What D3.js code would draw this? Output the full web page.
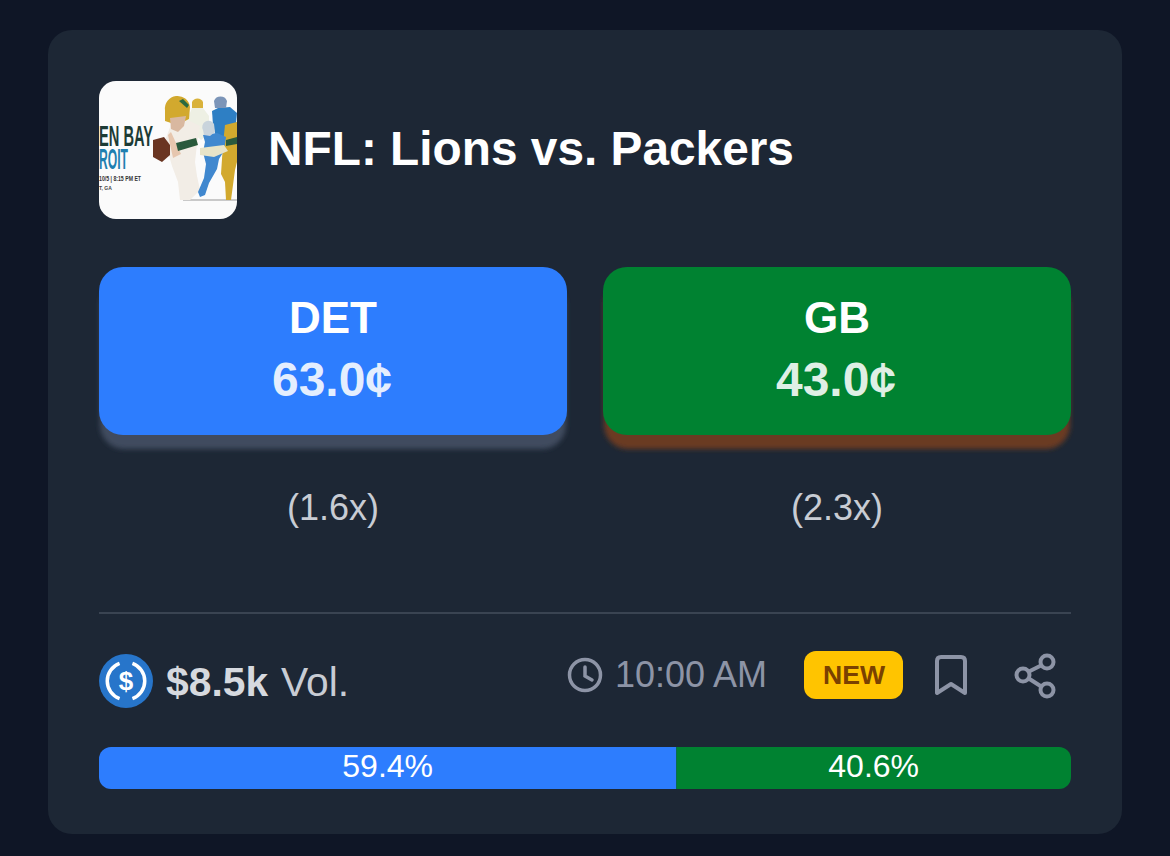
<!DOCTYPE html>
<html>
<head>
<meta charset="utf-8">
<script src="https://cdn.jsdelivr.net/npm/d3@7"></script>
<style>
  html, body { margin: 0; padding: 0; background: #0f1626; overflow: hidden; }
  svg { display: block; }
  text { font-family: "Liberation Sans", Arial, sans-serif; }
</style>
</head>
<body>
<svg id="chart" width="1170" height="856"></svg>
<script>
const title = "NFL: Lions vs. Packers"
const teams = ["DET", "GB"]
const prices = [63.0, 43.0]
const multipliers = [1.6, 2.3]
const shares = [59.4, 40.6]
const volume = "$8.5k"
const time = "10:00 AM"

const teamColors = ["#2d7dfe", "#008231"]
const shadowColors = ["#414c5e", "#6b3a22"]

const svg = d3.select("#chart")
const defs = svg.append("defs")

defs.append("filter").attr("id", "shadowBlur")
  .attr("x", "-5%").attr("y", "-20%").attr("width", "110%").attr("height", "140%")
  .append("feGaussianBlur").attr("stdDeviation", 2.5)
defs.append("filter").attr("id", "thumbBlur")
  .append("feGaussianBlur").attr("stdDeviation", 0.6)
defs.append("clipPath").attr("id", "thumbClip")
  .append("rect").attr("x", 99).attr("y", 81).attr("width", 138).attr("height", 138).attr("rx", 17)
defs.append("clipPath").attr("id", "barClip")
  .append("rect").attr("x", 99).attr("y", 747).attr("width", 972).attr("height", 42).attr("rx", 12)

svg.append("rect").attr("width", 1170).attr("height", 856).attr("fill", "#0f1626")
svg.append("rect").attr("x", 48).attr("y", 30).attr("width", 1074).attr("height", 804)
  .attr("rx", 24).attr("fill", "#1d2735")

// thumbnail, rough drawing of the poster
const thumb = svg.append("g").attr("clip-path", "url(#thumbClip)")
thumb.append("rect").attr("x", 99).attr("y", 81).attr("width", 138).attr("height", 138).attr("fill", "#fbfbfb")
thumb.append("text").attr("x", 99).attr("y", 146).attr("font-size", 30).attr("font-weight", 700)
  .attr("fill", "#1d3b35").attr("textLength", 54).attr("lengthAdjust", "spacingAndGlyphs").text("EN BAY")
thumb.append("text").attr("x", 99).attr("y", 169).attr("font-size", 30).attr("font-weight", 700)
  .attr("fill", "#1f7fb0").attr("textLength", 29).attr("lengthAdjust", "spacingAndGlyphs").text("ROIT")
thumb.append("text").attr("x", 99).attr("y", 181).attr("font-size", 7).attr("font-weight", 700)
  .attr("fill", "#333").attr("textLength", 42).attr("lengthAdjust", "spacingAndGlyphs").text("10/5 | 8:15 PM ET")
thumb.append("text").attr("x", 99).attr("y", 190).attr("font-size", 5).attr("font-weight", 700)
  .attr("fill", "#444").text("T, GA")

const art = thumb.append("g").attr("filter", "url(#thumbBlur)")
const shapes = [
  // floor shadow
  ["M183 199 H237 V201 H183 Z", "#c9c9c9"],
  // back players
  ["M192 108 l11 0 l6 8 l0 18 l-8 6 l-9 -8 l-4 -14 z", "#eef0e4"],
  ["M192 102 a6 6 0 0 1 11 0 l0 6 l-11 0 z", "#d9b23a"],
  ["M212 111 l6 -3 l12 -1 l7 6 l-2 20 l-6 4 l-13 0 l-3 -12 z", "#2f7fc4"],
  ["M214 101 a7 7 0 0 1 13 0 l-1 7 l-11 0 z", "#7c95b8"],
  ["M225 125 l12 -3 v40 l-2 8 l-4 30 l-5 0 l-1 -18 l-4 -8 l2 -30 z", "#d2a92d"],
  ["M226 140 l11 -3 v7 l-11 2 z", "#2c5a3c"],
  // quarterback
  ["M172 122 l16 -2 l12 6 l-3 18 l-2 18 l2 14 l3 14 l-10 10 l-10 0 l-2 -18 l-6 -16 l-4 -14 l-2 -14 z", "#f2ede6"],
  ["M165 110 a12 12 0 0 1 25 -3 l-1 12 l-12 6 l-12 -4 z", "#d2a92d"],
  ["M170 118 l16 -2 l-2 10 l-6 6 l-7 -3 z", "#d9b8a0"],
  ["M179 101 l4 -2 l6 6 l-2 3 z", "#2c6a40"],
  ["M168 135 l3 -3 l10 22 l-8 4 z", "#e6c6ae"],
  ["M153 140 l11 -3 l6 8 l0 10 l-8 7 l-9 -5 z", "#6a3524"],
  ["M176 143 l20 -5 l2 7 l-20 6 z", "#2c5a3c"],
  // running player
  ["M203 135 l14 -2 l9 4 l-2 14 l-5 8 l-2 10 l-8 14 l-4 12 l-5 2 l-2 -5 l6 -14 l2 -14 l-3 -12 l2 -10 z", "#3f88cf"],
  ["M203 130 a6 6 0 0 1 11 -6 l1 8 l-5 4 l-6 -1 z", "#c9d4dc"],
  ["M200 148 l24 -3 l4 6 l-14 6 l-14 -2 z", "#e8e4c8"]
]
art.selectAll("path").data(shapes).enter().append("path")
  .attr("d", (d) => d[0]).attr("fill", (d) => d[1])

// team buttons
const xBand = d3.scaleBand().domain(teams).range([99, 1071]).paddingInner(1 / 14).paddingOuter(0)
const buttonTop = 267
const buttonHeight = 168

const button = svg.selectAll(".button").data(teams).enter().append("g").attr("class", "button")
button.append("rect")
  .attr("x", (d) => xBand(d) + 1).attr("y", buttonTop + 14)
  .attr("width", xBand.bandwidth() - 2).attr("height", buttonHeight)
  .attr("rx", 24).attr("fill", (d, i) => shadowColors[i])
  .attr("filter", "url(#shadowBlur)")
button.append("rect")
  .attr("x", (d) => xBand(d)).attr("y", buttonTop)
  .attr("width", xBand.bandwidth()).attr("height", buttonHeight)
  .attr("rx", 24).attr("fill", (d, i) => teamColors[i])
button.append("text")
  .attr("x", (d) => xBand(d) + xBand.bandwidth() / 2).attr("y", 333)
  .attr("text-anchor", "middle").attr("font-size", 44).attr("font-weight", 700).attr("fill", "#fff")
  .text((d) => d)
button.append("text")
  .attr("x", (d) => xBand(d) + xBand.bandwidth() / 2 - 1).attr("y", 396)
  .attr("text-anchor", "middle").attr("font-size", 48).attr("font-weight", 700)
  .attr("fill", "#fff").attr("fill-opacity", 0.88)
  .text((d, i) => d3.format(".1f")(prices[i]) + "¢")
button.append("text")
  .attr("x", (d) => xBand(d) + xBand.bandwidth() / 2).attr("y", 520)
  .attr("text-anchor", "middle").attr("font-size", 36).attr("fill", "#c8ccd4")
  .text((d, i) => `(${multipliers[i]}x)`)

svg.append("text").attr("x", 268).attr("y", 165).attr("font-size", 47.8).attr("font-weight", 700)
  .attr("fill", "#fff").text(title)

svg.append("rect").attr("x", 99).attr("y", 612).attr("width", 972).attr("height", 2).attr("fill", "#3a4452")

// usdc coin
const coin = svg.append("g").attr("transform", "translate(126,681)")
coin.append("circle").attr("r", 27).attr("fill", "#2775ca")
const ring = d3.arc().innerRadius(17).outerRadius(20.5)
coin.selectAll(".ring").data([[0.35, Math.PI - 0.35], [Math.PI + 0.35, 2 * Math.PI - 0.35]]).enter()
  .append("path").attr("class", "ring")
  .attr("d", (d) => ring({ startAngle: d[0], endAngle: d[1] })).attr("fill", "#fff")
coin.append("text").attr("y", 9).attr("text-anchor", "middle").attr("font-size", 26).attr("font-weight", 700)
  .attr("fill", "#fff").text("$")

const volText = svg.append("text").attr("x", 166).attr("y", 696).attr("font-size", 40.8).attr("fill", "#c8ccd4")
volText.append("tspan").attr("font-weight", 700).attr("fill", "#d6d9df").text(volume)
volText.append("tspan").attr("dx", 13).text("Vol.")

// clock
const iconGray = "#8d94a6"
const clock = svg.append("g").attr("transform", "translate(585,675)")
  .attr("fill", "none").attr("stroke", iconGray).attr("stroke-width", 3.5).attr("stroke-linecap", "round")
clock.append("circle").attr("r", 15.5)
clock.append("path").attr("d", "M0 -8 V1 L7 5")

svg.append("text").attr("x", 615).attr("y", 687).attr("font-size", 36).attr("fill", iconGray).text(time)

// new badge
svg.append("rect").attr("x", 804).attr("y", 651).attr("width", 99).attr("height", 48).attr("rx", 12).attr("fill", "#ffc400")
svg.append("text").attr("x", 854).attr("y", 684).attr("text-anchor", "middle")
  .attr("font-size", 26.6).attr("font-weight", 700).attr("fill", "#7a4100").text("NEW")

// bookmark and share
svg.append("path").attr("d", "M937 693 V661 Q937 657 941 657 H961 Q965 657 965 661 V693 L951 684 Z")
  .attr("fill", "none").attr("stroke", iconGray).attr("stroke-width", 4).attr("stroke-linejoin", "round")
const share = svg.append("g").attr("fill", "none").attr("stroke", iconGray).attr("stroke-width", 4)
share.append("path").attr("d", "M1042 665 L1028 672 M1028 678 L1042 687")
share.append("circle").attr("cx", 1047).attr("cy", 662).attr("r", 6.5)
share.append("circle").attr("cx", 1023).attr("cy", 675).attr("r", 6.5)
share.append("circle").attr("cx", 1047).attr("cy", 690).attr("r", 6.5)

// share bar
const x = d3.scaleLinear().domain([0, 100]).range([99, 1071])
const starts = d3.cumsum([0, ...shares]).slice(0, shares.length)
const bar = svg.append("g").attr("clip-path", "url(#barClip)")
bar.selectAll("rect").data(shares).enter().append("rect")
  .attr("x", (d, i) => x(starts[i])).attr("y", 747)
  .attr("width", (d) => x(d) - x(0)).attr("height", 42)
  .attr("fill", (d, i) => teamColors[i])
svg.selectAll(".share").data(shares).enter().append("text").attr("class", "share")
  .attr("x", (d, i) => x(starts[i] + d / 2)).attr("y", 777)
  .attr("text-anchor", "middle").attr("font-size", 32).attr("fill", "#fff")
  .text((d) => d3.format(".1f")(d) + "%")
</script>
</body>
</html>
